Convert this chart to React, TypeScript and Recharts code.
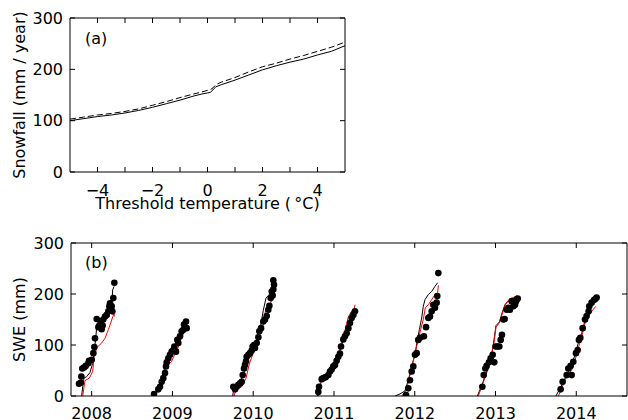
import React from 'react';
import { ComposedChart, LineChart, Line, Scatter, XAxis, YAxis, Label } from 'recharts';

const FONT = '"DejaVu Sans", sans-serif';
const TICK_LEN = 5;

// (a) mean annual snowfall against the rain/snow threshold temperature
const THRESHOLD = [-5, -4.5, -4, -3.5, -3, -2.5, -2, -1.5, -1, -0.5, -0.2, 0, 0.1, 0.2, 0.3, 0.5, 1, 1.5, 2, 2.5, 3, 3.5, 4, 4.5, 5];
const SNOW_SOLID = [100, 104, 108, 111, 115, 120, 126, 133, 140, 148, 152, 154, 155, 160, 166, 170, 179, 189, 199, 207, 214, 220, 228, 235, 246];
const SNOW_DASHED = [103, 107, 111, 114, 118, 123, 130, 137, 145, 152, 156, 159, 160, 164, 170, 175, 184, 195, 205, 212, 220, 227, 235, 243, 253];
const A_XTICKS = [-4, -3, -2, -1, 0, 1, 2, 3, 4];
const A_YTICKS = [0, 100, 200, 300];

// (b) snow water equivalent per winter, [decimal year, mm]
type P = [number, number];

const OBS_2008: P[] = [[2007.843, 24], [2007.864, 26], [2007.872, 38], [2007.884, 54], [2007.905, 56], [2007.926, 59], [2007.959, 64], [2007.967, 69], [2008.0, 71], [2008.021, 84], [2008.033, 96], [2008.041, 113], [2008.062, 151], [2008.083, 135], [2008.095, 138], [2008.111, 146], [2008.124, 131], [2008.136, 138], [2008.144, 150], [2008.165, 156], [2008.186, 159], [2008.206, 166], [2008.219, 176], [2008.227, 182], [2008.235, 172], [2008.248, 176], [2008.256, 166], [2008.268, 192], [2008.281, 222]];
const BLACK_2008: P[] = [[2007.876, 0], [2007.889, 18], [2007.905, 35], [2007.938, 38], [2007.979, 46], [2008.012, 64], [2008.033, 90], [2008.05, 113], [2008.062, 135], [2008.095, 140], [2008.136, 146], [2008.177, 156], [2008.219, 169], [2008.248, 179], [2008.26, 208], [2008.277, 215]];
const RED_2008: P[] = [[2007.889, 0], [2007.905, 18], [2007.917, 30], [2007.971, 35], [2008.012, 48], [2008.033, 81], [2008.07, 96], [2008.124, 104], [2008.165, 113], [2008.206, 130], [2008.235, 143], [2008.26, 155], [2008.277, 161], [2008.281, 156]];

const OBS_2009: P[] = [[2008.772, 4], [2008.825, 13], [2008.846, 18], [2008.867, 28], [2008.887, 35], [2008.908, 45], [2008.92, 58], [2008.929, 66], [2008.949, 74], [2008.97, 81], [2008.99, 87], [2009.011, 90], [2009.024, 97], [2009.044, 87], [2009.061, 110], [2009.073, 104], [2009.094, 117], [2009.114, 127], [2009.135, 130], [2009.143, 140], [2009.168, 146], [2009.176, 133]];
const BLACK_2009: P[] = [[2008.747, 0], [2008.805, 9], [2008.858, 25], [2008.887, 46], [2008.92, 63], [2008.97, 76], [2009.011, 89], [2009.052, 98], [2009.094, 115], [2009.127, 130], [2009.168, 144]];
const RED_2009: P[] = [[2008.772, 0], [2008.825, 10], [2008.867, 24], [2008.9, 50], [2008.937, 59], [2008.99, 68], [2009.032, 83], [2009.073, 96], [2009.114, 115], [2009.156, 129], [2009.185, 135]];

const OBS_2010: P[] = [[2009.754, 18], [2009.775, 13], [2009.795, 18], [2009.816, 22], [2009.837, 25], [2009.857, 28], [2009.87, 41], [2009.886, 54], [2009.898, 61], [2009.911, 68], [2009.919, 77], [2009.94, 81], [2009.96, 84], [2009.981, 89], [2009.993, 97], [2010.01, 100], [2010.022, 94], [2010.043, 104], [2010.064, 115], [2010.076, 127], [2010.097, 133], [2010.125, 146], [2010.146, 150], [2010.167, 157], [2010.187, 169], [2010.2, 177], [2010.216, 192], [2010.229, 205], [2010.241, 197], [2010.249, 209], [2010.258, 218], [2010.249, 227]];
const BLACK_2010: P[] = [[2009.746, 0], [2009.762, 17], [2009.837, 26], [2009.886, 46], [2009.927, 72], [2009.969, 85], [2010.01, 100], [2010.051, 113], [2010.092, 138], [2010.125, 168], [2010.158, 192], [2010.187, 197], [2010.216, 202], [2010.249, 214]];
const RED_2010: P[] = [[2009.762, 0], [2009.787, 12], [2009.857, 18], [2009.911, 35], [2009.952, 63], [2009.993, 81], [2010.043, 100], [2010.084, 120], [2010.125, 140], [2010.158, 172], [2010.208, 179], [2010.233, 190], [2010.249, 202]];

const OBS_2011: P[] = [[2010.806, 8], [2010.815, 18], [2010.848, 33], [2010.868, 35], [2010.897, 37], [2010.93, 41], [2010.951, 48], [2010.971, 52], [2010.992, 58], [2011.013, 61], [2011.033, 69], [2011.054, 77], [2011.074, 83], [2011.087, 97], [2011.116, 111], [2011.136, 117], [2011.157, 123], [2011.178, 133], [2011.198, 143], [2011.219, 153], [2011.24, 159], [2011.26, 166]];
const BLACK_2011: P[] = [[2010.794, 0], [2010.827, 17], [2010.848, 35], [2010.897, 38], [2010.951, 46], [2011.013, 63], [2011.054, 79], [2011.095, 100], [2011.136, 117], [2011.178, 133], [2011.219, 146], [2011.252, 161]];
const RED_2011: P[] = [[2010.806, 0], [2010.84, 37], [2010.889, 39], [2010.93, 44], [2010.971, 54], [2011.013, 64], [2011.054, 80], [2011.074, 97], [2011.103, 110], [2011.128, 123], [2011.157, 142], [2011.178, 155], [2011.207, 163], [2011.227, 168], [2011.252, 171], [2011.26, 179]];

const OBS_2012: P[] = [[2011.892, 2], [2011.92, 15], [2011.941, 31], [2011.962, 48], [2011.982, 58], [2012.003, 81], [2012.024, 84], [2012.044, 110], [2012.065, 114], [2012.114, 117], [2012.14, 135], [2012.168, 153], [2012.189, 156], [2012.21, 166], [2012.23, 179], [2012.251, 173], [2012.271, 183], [2012.279, 196], [2012.292, 241]];
const BLACK_2012: P[] = [[2011.755, 0], [2011.817, 4], [2011.879, 10], [2011.92, 31], [2011.962, 58], [2012.003, 81], [2012.032, 110], [2012.057, 130], [2012.086, 153], [2012.106, 176], [2012.127, 189], [2012.168, 199], [2012.21, 205], [2012.251, 215], [2012.283, 222]];
const RED_2012: P[] = [[2011.838, 0], [2011.879, 7], [2011.92, 26], [2011.962, 56], [2012.003, 84], [2012.044, 110], [2012.073, 130], [2012.106, 150], [2012.131, 173], [2012.168, 179], [2012.21, 189], [2012.251, 199], [2012.283, 201], [2012.292, 217]];

const OBS_2013: P[] = [[2012.837, 18], [2012.854, 41], [2012.874, 54], [2012.89, 59], [2012.919, 66], [2012.94, 74], [2012.965, 81], [2012.985, 66], [2013.002, 97], [2013.023, 97], [2013.047, 97], [2013.064, 110], [2013.08, 120], [2013.097, 150], [2013.113, 151], [2013.138, 169], [2013.159, 173], [2013.179, 169], [2013.2, 186], [2013.221, 176], [2013.242, 179], [2013.254, 186], [2013.262, 189], [2013.275, 191]];
const BLACK_2013: P[] = [[2012.775, 0], [2012.829, 20], [2012.89, 48], [2012.952, 81], [2012.981, 110], [2013.006, 138], [2013.047, 145], [2013.088, 166], [2013.117, 179], [2013.159, 186], [2013.213, 189], [2013.27, 192]];
const RED_2013: P[] = [[2012.787, 0], [2012.829, 18], [2012.89, 45], [2012.94, 74], [2012.981, 104], [2013.006, 135], [2013.047, 143], [2013.097, 168], [2013.126, 181], [2013.167, 189], [2013.213, 193], [2013.25, 195], [2013.27, 197]];

const OBS_2014: P[] = [[2013.806, 13], [2013.831, 28], [2013.881, 41], [2013.901, 54], [2013.93, 59], [2013.943, 41], [2013.963, 67], [2013.996, 84], [2014.017, 90], [2014.033, 110], [2014.05, 114], [2014.079, 133], [2014.108, 150], [2014.128, 157], [2014.153, 166], [2014.161, 176], [2014.19, 183], [2014.219, 188], [2014.236, 190], [2014.252, 193]];
const BLACK_2014: P[] = [[2013.748, 0], [2013.806, 17], [2013.881, 41], [2013.943, 61], [2013.984, 81], [2014.025, 104], [2014.067, 123], [2014.108, 148], [2014.137, 173], [2014.17, 179], [2014.211, 187], [2014.252, 192]];
const RED_2014: P[] = [[2013.778, 0], [2013.819, 15], [2013.881, 39], [2013.943, 51], [2013.984, 70], [2014.025, 94], [2014.067, 117], [2014.108, 142], [2014.149, 156], [2014.19, 166], [2014.244, 176]];

const SEASONS = [
  { obs: OBS_2008, black: BLACK_2008, red: RED_2008 },
  { obs: OBS_2009, black: BLACK_2009, red: RED_2009 },
  { obs: OBS_2010, black: BLACK_2010, red: RED_2010 },
  { obs: OBS_2011, black: BLACK_2011, red: RED_2011 },
  { obs: OBS_2012, black: BLACK_2012, red: RED_2012 },
  { obs: OBS_2013, black: BLACK_2013, red: RED_2013 },
  { obs: OBS_2014, black: BLACK_2014, red: RED_2014 },
];
const YEARS = [2008, 2009, 2010, 2011, 2012, 2013, 2014];
const B_YTICKS = [0, 100, 200, 300];
const B_DOMAIN: [number, number] = [2007.744, 2014.628];

const rows = (pts: P[]) => pts.map(([t, v]) => ({ t, v }));
const allObs = SEASONS.flatMap((s) => rows(s.obs));

const snowRows = THRESHOLD.map((x, i) => ({ x, solid: SNOW_SOLID[i], dashed: SNOW_DASHED[i] }));

const fmt = (v: number) => (v < 0 ? `\u2212${-v}` : `${v}`);

const textStyle = { fontFamily: FONT, fontSize: 16, fill: '#000' };

// inward tick marks, matplotlib style; labels drawn by the same component
const bottomTick = (labelDy: number, show: (v: number) => boolean) => (p: any) => (
  <g>
    <line x1={p.x} x2={p.x} y1={p.y} y2={p.y - TICK_LEN} stroke="#000" />
    {show(p.payload.value) && (
      <text x={p.x} y={p.y + labelDy} textAnchor="middle" {...textStyle}>
        {fmt(p.payload.value)}
      </text>
    )}
  </g>
);
const topTick = (p: any) => <line x1={p.x} x2={p.x} y1={p.y} y2={p.y + TICK_LEN} stroke="#000" />;
const leftTick = (p: any) => (
  <g>
    <line x1={p.x} x2={p.x + TICK_LEN} y1={p.y} y2={p.y} stroke="#000" />
    <text x={p.x - 7} y={p.y + 5.8} textAnchor="end" {...textStyle}>
      {fmt(p.payload.value)}
    </text>
  </g>
);
const rightTick = (p: any) => <line x1={p.x} x2={p.x - TICK_LEN} y1={p.y} y2={p.y} stroke="#000" />;

const yTitle = (title: string) => (p: any) => {
  const vb = p.viewBox || {};
  const cy = (vb.y ?? 0) + (vb.height ?? 0) / 2;
  return (
    <text transform={`translate(24.5 ${cy}) rotate(-90)`} textAnchor="middle" {...textStyle}>
      {title}
    </text>
  );
};

const axisLine = { stroke: '#000', strokeWidth: 1 };

function Dot(p: any) {
  return <circle cx={p.cx} cy={p.cy} r={3.3} fill="#000" />;
}

export default function App() {
  return (
    <div style={{ position: 'absolute', left: 0, top: 0, width: 628, height: 420, background: '#fff', fontFamily: FONT }}>
      <div style={{ position: 'absolute', left: 0, top: 0 }}>
        <LineChart width={360} height={215} data={snowRows} margin={{ top: 0, right: 0, bottom: 0, left: 0 }}>
          <XAxis xAxisId="b" dataKey="x" type="number" domain={[-5, 5]} ticks={A_XTICKS} interval={0}
            tickSize={0} tickMargin={0} tickLine={false} axisLine={axisLine} height={43} allowDataOverflow
            tick={bottomTick(24, (v) => v % 2 === 0)}>
            <Label content={(p: any) => {
              const vb = p.viewBox || {};
              return (
                <text x={(vb.x ?? 0) + (vb.width ?? 0) / 2} y={(vb.y ?? 0) + 37} textAnchor="middle" {...textStyle}>
                  Threshold temperature ({'\u2009'}°C)
                </text>
              );
            }} />
          </XAxis>
          <XAxis xAxisId="t" orientation="top" dataKey="x" type="number" domain={[-5, 5]} ticks={A_XTICKS} interval={0}
            tickSize={0} tickMargin={0} tickLine={false} axisLine={axisLine} height={18} allowDataOverflow tick={topTick} />
          <YAxis yAxisId="l" type="number" domain={[0, 300]} ticks={A_YTICKS} interval={0} width={70}
            tickSize={0} tickMargin={0} tickLine={false} axisLine={axisLine} allowDataOverflow tick={leftTick}>
            <Label content={yTitle('Snowfall (mm / year)')} />
          </YAxis>
          <YAxis yAxisId="r" orientation="right" type="number" domain={[0, 300]} ticks={A_YTICKS} interval={0} width={15}
            tickSize={0} tickMargin={0} tickLine={false} axisLine={axisLine} allowDataOverflow tick={rightTick} />
          <Line xAxisId="b" yAxisId="l" dataKey="dashed" stroke="#000" strokeWidth={1} strokeDasharray="6 3" dot={false} isAnimationActive={false} />
          <Line xAxisId="b" yAxisId="l" dataKey="solid" stroke="#000" strokeWidth={1} dot={false} isAnimationActive={false} />
        </LineChart>
        <span style={{ position: 'absolute', left: 85, top: 29, fontSize: 16, lineHeight: '20px' }}>(a)</span>
      </div>

      <div style={{ position: 'absolute', left: 0, top: 225 }}>
        <ComposedChart width={628} height={195} margin={{ top: 0, right: 0, bottom: 0, left: 0 }}>
          <XAxis xAxisId="b" dataKey="t" type="number" domain={B_DOMAIN} ticks={YEARS} interval={0}
            tickSize={0} tickMargin={0} tickLine={false} axisLine={axisLine} height={24} allowDataOverflow
            tick={bottomTick(23, () => true)} />
          <XAxis xAxisId="t" orientation="top" dataKey="t" type="number" domain={B_DOMAIN} ticks={YEARS} interval={0}
            tickSize={0} tickMargin={0} tickLine={false} axisLine={axisLine} height={18} allowDataOverflow tick={topTick} />
          <YAxis yAxisId="l" type="number" domain={[0, 300]} ticks={B_YTICKS} interval={0} width={71}
            tickSize={0} tickMargin={0} tickLine={false} axisLine={axisLine} allowDataOverflow tick={leftTick}>
            <Label content={yTitle('SWE (mm)')} />
          </YAxis>
          <YAxis yAxisId="r" orientation="right" type="number" domain={[0, 300]} ticks={B_YTICKS} interval={0} width={1}
            tickSize={0} tickMargin={0} tickLine={false} axisLine={axisLine} allowDataOverflow tick={rightTick} />
          <Scatter xAxisId="b" yAxisId="l" data={allObs} dataKey="v" shape={Dot} isAnimationActive={false} />
          {SEASONS.map((s, i) => (
            <Line key={`k${i}`} xAxisId="b" yAxisId="l" data={rows(s.black)} dataKey="v" stroke="#000" strokeWidth={1}
              dot={false} isAnimationActive={false} />
          ))}
          {SEASONS.map((s, i) => (
            <Line key={`r${i}`} xAxisId="b" yAxisId="l" data={rows(s.red)} dataKey="v" stroke="#ff0000" strokeWidth={1}
              dot={false} isAnimationActive={false} />
          ))}
        </ComposedChart>
        <span style={{ position: 'absolute', left: 85, top: 28, fontSize: 16, lineHeight: '20px' }}>(b)</span>
      </div>
    </div>
  );
}
